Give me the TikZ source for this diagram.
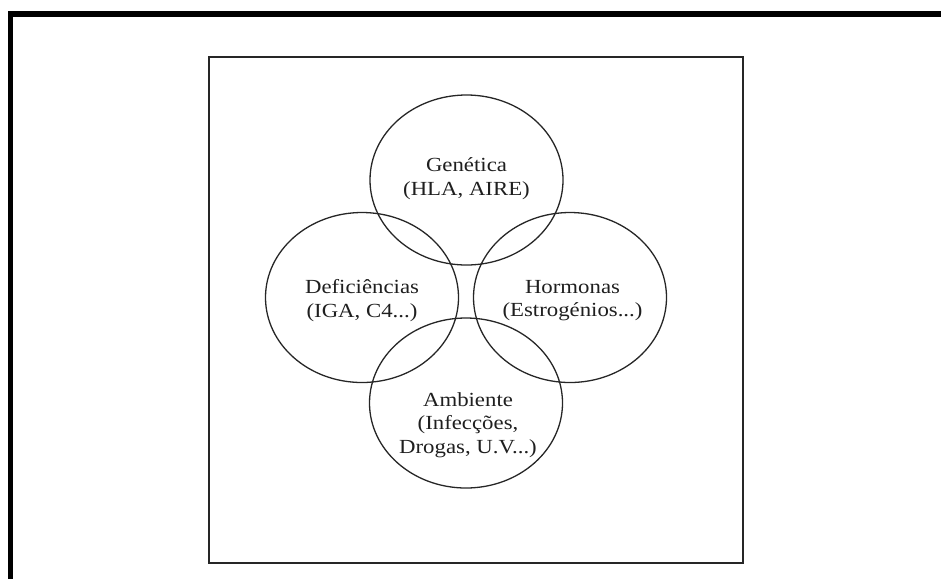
\documentclass[tikz,border=0pt]{standalone}
\usepackage{fontspec}
\setmainfont{Liberation Serif}
\usepackage{tikz}
\usetikzlibrary{shapes.geometric}

\tikzset{
  factor/.style={draw=black!85, line width=1.3pt, ellipse,
    minimum width=\ellW pt, minimum height=\ellH pt, inner sep=0pt},
  factortext/.style={align=center, text=black!88, inner sep=0pt,
    font=\fontsize{20}{23.5}\selectfont, xscale=1.14, transform shape}
}

\begin{document}
\begin{tikzpicture}[x=1pt, y=-1pt]
% Ellipse size for each factor
\def\ellW{193}
\def\ellH{170}

\useasboundingbox (0,0) rectangle (941,579);

% --- outer frame (top and left only) ---
\draw[line width=5.8pt, line join=miter] (941,14) -- (10.5,14) -- (10.5,579);

% --- inner frame ---
\draw[black!85, line width=1.3pt] (209,57) rectangle (743,563);

% --- the four factors ---
\node[factor] (gen) at (466.5,180) {};
\node[factor] (def) at (362,297.5) {};
\node[factor] (hor) at (570,297.5) {};
\node[factor] (amb) at (466,403) {};

% --- texts ---
\node[factortext] (gentext) at ([yshift=1.5pt]gen.center)
    {Genética\\(HLA, AIRE)};
\node[factortext] (deftext) at ([yshift=-3pt]def.center)
    {Deficiências\\(IGA, C4...)};
\node[factortext] (hortext) at ([xshift=2.5pt, yshift=-3pt]hor.center)
    {Hormonas\\(Estrogénios...)};
\node[factortext] (ambtext) at ([xshift=2pt, yshift=-22pt]amb.center)
    {Ambiente\\(Infecções,\\Drogas, U.V...)};
\end{tikzpicture}
\end{document}
